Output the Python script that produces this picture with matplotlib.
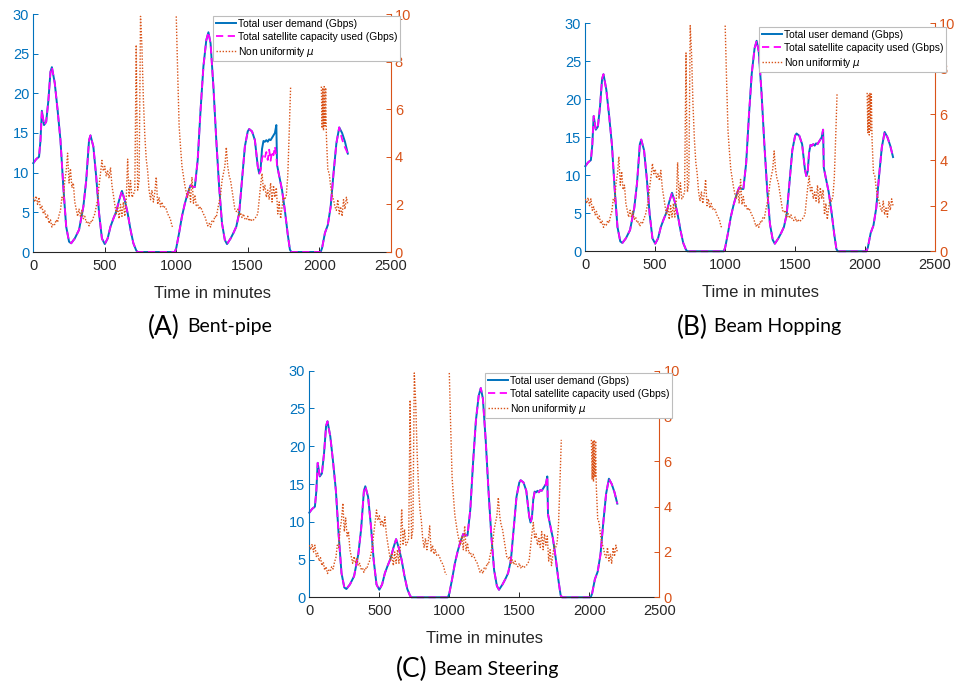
import numpy as np
import matplotlib
matplotlib.use('Agg')
import matplotlib.pyplot as plt

# ---- data ----
# total user demand (Gbps) vs time (min)
dem_t = [0, 20, 40, 50, 60, 75, 90, 105, 120, 130, 150, 170, 190, 210, 230, 250, 265, 290, 320, 350,
         370, 390, 400, 420, 440, 460, 480, 500, 520, 540, 560, 580, 600, 620, 640, 660, 680, 700, 720, 730,
         990, 1000, 1020, 1040, 1060, 1080, 1100, 1120, 1130, 1150, 1170, 1190, 1210, 1225, 1240, 1260, 1280, 1300, 1320, 1340,
         1355, 1380, 1400, 1420, 1440, 1460, 1480, 1500, 1510, 1530, 1550, 1570, 1580, 1590, 1600, 1610, 1620, 1630, 1640, 1650,
         1660, 1670, 1680, 1690, 1700, 1705, 1720, 1740, 1760, 1780, 1795, 1805, 2010, 2020, 2040, 2060, 2080, 2100, 2120, 2140,
         2160, 2180, 2200]
dem_v = [11.2, 11.7, 12.0, 14.0, 17.8, 16.0, 16.4, 19.0, 22.7, 23.3, 21.3, 17.9, 14.1, 8.2, 3.2, 1.3, 1.1, 1.7, 2.8, 5.7,
         9.0, 14.1, 14.7, 13.3, 9.5, 4.9, 1.7, 1.0, 1.7, 3.2, 4.2, 5.1, 6.5, 7.7, 6.5, 4.9, 2.8, 1.1, 0.2, 0.0,
         0.0, 0.5, 2.4, 4.5, 6.1, 7.4, 8.4, 8.2, 8.2, 11.6, 17.9, 23.4, 26.7, 27.7, 26.3, 20.8, 14.1, 8.2, 3.6, 1.5,
         1.0, 1.7, 2.4, 3.2, 4.9, 9.1, 13.3, 15.2, 15.5, 15.2, 14.1, 10.8, 9.9, 10.5, 13.0, 14.0, 13.9, 14.1, 13.9, 14.2,
         14.1, 14.4, 14.7, 15.0, 16.0, 11.0, 9.6, 7.8, 5.2, 2.2, 0.3, 0.0, 0.0, 0.5, 2.4, 3.4, 5.7, 9.9, 13.7, 15.7,
         15.0, 13.9, 12.4]

# bent-pipe: capacity used falls below demand at these times
capA_t = [1590, 1600, 1610, 1620, 1630, 1640, 1650, 1660, 1670, 1680, 1690, 1700, 1705, 2160, 2180]
capA_v = [10.2, 11.8, 12.3, 11.9, 12.6, 11.6, 12.9, 11.5, 12.7, 12.2, 13.3, 12.1, 10.8, 14.2, 13.2]

# non uniformity mu, three pieces (gaps where no traffic)
mu1_t = np.arange(0, 990, 10)
mu1_v = [2.3, 2.1, 2.35, 2.0, 2.3, 1.8, 1.95, 1.6, 1.75, 1.4,
         1.55, 1.2, 1.35, 1.05, 1.2, 1.15, 1.35, 1.25, 1.55, 1.75,
         2.3, 2.2, 3.0, 3.4, 4.15, 2.9, 3.5, 2.7, 2.9, 2.1,
         1.8, 1.5, 1.8, 1.5, 1.75, 1.4, 1.5, 1.25, 1.3, 1.1,
         1.3, 1.25, 1.45, 1.6, 1.9, 2.2, 2.8, 3.3, 3.85, 3.4,
         3.6, 3.2, 3.4, 3.1, 3.55, 2.8, 2.4, 2.0, 1.6, 1.9,
         1.4, 2.0, 1.5, 2.1, 1.5, 2.2, 3.9, 2.3, 3.0, 2.3,
         2.4, 2.6, 8.7, 2.6, 3.0, 9.9, 8.6, 6.4, 4.9, 3.9,
         3.4, 2.6, 2.2, 2.6, 2.1, 2.5, 3.15, 2.0, 2.3, 1.9,
         2.1, 1.85, 1.9, 1.8, 1.6, 1.5, 1.35, 1.1, 1.0]
mu2_t = np.arange(1000, 1810, 10)
mu2_v = [9.9, 7.5, 5.3, 4.4, 3.6, 3.2, 2.8, 2.5, 2.3, 2.7,
         2.1, 3.15, 2.05, 2.4, 1.95, 2.0, 1.8, 1.9, 1.75, 1.6,
         1.5, 1.3, 1.1, 1.2, 1.05, 1.3, 1.25, 1.5, 1.45, 1.8,
         2.1, 2.4, 3.0, 3.3, 3.6, 4.4, 3.6, 3.2, 3.0, 2.6,
         2.2, 1.8, 1.7, 1.8, 1.5, 1.65, 1.45, 1.6, 1.4, 1.35,
         1.5, 1.3, 1.4, 1.3, 1.35, 1.4, 1.5, 1.6, 2.2, 2.8,
         3.3, 2.6, 2.8, 2.3, 2.6, 2.2, 2.9, 2.1, 2.8, 2.3,
         2.7, 1.6, 2.1, 1.4, 1.9, 2.3, 2.2, 2.4, 3.2, 5.0,
         6.95]
mu3_t = [2015, 2020, 2025, 2030, 2035, 2040, 2045, 2050, 2060, 2070, 2080, 2090,
         2100, 2110, 2120, 2130, 2140, 2150, 2160, 2170, 2180, 2190, 2200]
mu3_v = [6.95, 5.2, 6.9, 5.1, 6.95, 5.3, 6.9, 4.9, 3.45, 3.3, 2.75, 2.4,
         2.2, 1.9, 1.75, 2.2, 1.6, 1.9, 1.5, 2.2, 1.8, 2.3, 2.0]

captions = [('(A)', 'Bent-pipe'), ('(B)', 'Beam Hopping'), ('(C)', 'Beam Steering')]

BLUE = '#0072BD'
ORANGE = '#D95319'
MAG = '#FF00FF'
DARK = '#262626'

plt.rcParams['font.family'] = ['Liberation Sans', 'DejaVu Sans']

# join mu pieces with gaps
mu_t = np.concatenate([mu1_t, [np.nan], mu2_t, [np.nan], mu3_t])
mu_v = np.concatenate([mu1_v, [np.nan], mu2_v, [np.nan], mu3_v])

# bent-pipe capacity = demand with overrides
capA = list(dem_v)
for t, v in zip(capA_t, capA_v):
    capA[dem_t.index(t)] = v
cap_series = [capA, dem_v, dem_v]

W, H = 971, 681
fig = plt.figure(figsize=(W / 100, H / 100), dpi=100)

# axes boxes in pixels: left, right, top, bottom
boxes = [(33.3, 390.7, 14, 252), (585.3, 935, 23.3, 251.3), (309.3, 659.3, 370.7, 597.3)]
legend_pos = [(400, 16), (946, 27), (672, 373)]
cap_pos = [(180, 187, 327), (708, 714, 327), (427, 434, 669)]

for i in range(3):
    l, r, t, b = boxes[i]
    ax = fig.add_axes([l / W, 1 - b / H, (r - l) / W, (b - t) / H])
    ax2 = ax.twinx()

    h1, = ax.plot(dem_t, dem_v, color=BLUE, lw=1.4, clip_on=False,
                  label='Total user demand (Gbps)')
    h2, = ax.plot(dem_t, cap_series[i], color=MAG, lw=1.3, ls=(0, (4, 2.5)), clip_on=False,
                  label='Total satellite capacity used (Gbps)')
    h3, = ax2.plot(mu_t, mu_v, color=ORANGE, lw=1.0, ls=(0, (1, 1.2)),
                   label='Non uniformity $\\mu$')

    ax.set_xlim(0, 2500)
    ax.set_ylim(0, 30)
    ax2.set_ylim(0, 10)
    ax.set_xticks([0, 500, 1000, 1500, 2000, 2500])
    ax.set_yticks([0, 5, 10, 15, 20, 25, 30])
    ax2.set_yticks([0, 2, 4, 6, 8, 10])

    for a in (ax, ax2):
        a.spines['top'].set_visible(False)
        a.patch.set_visible(False)
    ax.spines['right'].set_visible(False)
    ax2.spines['left'].set_visible(False)
    ax2.spines['bottom'].set_visible(False)
    ax.spines['left'].set_color(BLUE)
    ax.spines['bottom'].set_color(DARK)
    ax2.spines['right'].set_color(ORANGE)
    for s in ('left', 'bottom'):
        ax.spines[s].set_linewidth(0.8)
    ax2.spines['right'].set_linewidth(0.8)

    ax.tick_params(axis='x', direction='in', length=3.5, width=0.7, colors=DARK,
                   labelsize=10.5, pad=5)
    ax.tick_params(axis='y', direction='in', length=3.5, width=0.7, colors=BLUE,
                   labelsize=10.5, pad=3)
    ax2.tick_params(axis='y', direction='in', length=3.5, width=0.7, colors=ORANGE,
                    labelsize=10.5, pad=3)

    leg = ax2.legend(handles=[h1, h2, h3], loc='upper right',
                     bbox_to_anchor=(legend_pos[i][0] / W, 1 - legend_pos[i][1] / H),
                     bbox_transform=fig.transFigure, borderaxespad=0,
                     fontsize=7.4, handlelength=2.0, handletextpad=0.15,
                     labelspacing=0.3, borderpad=0.25, fancybox=False,
                     framealpha=1, edgecolor='#bdbdbd')
    leg.get_frame().set_linewidth(0.8)

    fig.text((l + r) / 2 / W, 1 - (b + 41) / H, 'Time in minutes', ha='center', va='center',
             fontsize=12, color=DARK)

    cx1, cx2, cy = cap_pos[i]
    fig.text(cx1 / W, 1 - cy / H, captions[i][0], ha='right', va='center',
             fontsize=19, family='Lato', color='black')
    fig.text(cx2 / W, 1 - cy / H, captions[i][1], ha='left', va='center',
             fontsize=14, family='Lato', color='black')

fig.savefig('out.png', dpi=100)
